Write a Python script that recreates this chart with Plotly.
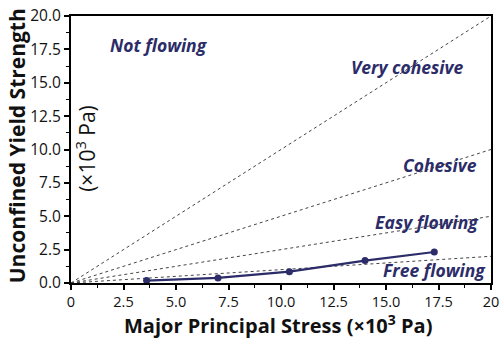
import plotly.graph_objects as go

# Data
stress = [3.6, 7.0, 10.4, 14.0, 17.3]
strength = [0.18, 0.38, 0.85, 1.68, 2.32]

boundary_x = [0, 20]
boundary_slopes = [1.0, 0.5, 0.25, 0.1]

region_labels = ["Not flowing", "Very cohesive", "Cohesive", "Easy flowing", "Free flowing"]
region_x = [4.2, 16.0, 17.55, 16.95, 17.3]
region_y = [17.85, 16.15, 8.85, 4.6, 0.95]

x_tickvals = [0, 2.5, 5, 7.5, 10, 12.5, 15, 17.5, 20]
x_ticktext = ["0", "2.5", "5.0", "7.5", "10.0", "12.5", "15.0", "17.5", "20"]
y_tickvals = [0, 2.5, 5, 7.5, 10, 12.5, 15, 17.5, 20]
y_ticktext = ["0.0", "2.5", "5.0", "7.5", "10.0", "12.5", "15.0", "17.5", "20.0"]

navy = "#2b2c68"
font_family = "Open Sans, Noto Sans, sans-serif"

fig = go.Figure()

for s in boundary_slopes:
    fig.add_trace(go.Scatter(
        x=boundary_x, y=[s * v for v in boundary_x], mode="lines",
        line=dict(color="#444444", width=1, dash="dot"),
        hoverinfo="skip", showlegend=False))

fig.add_trace(go.Scatter(
    x=stress, y=strength, mode="lines+markers",
    line=dict(color=navy, width=2.2),
    marker=dict(color=navy, size=7),
    showlegend=False))

for t, xv, yv in zip(region_labels, region_x, region_y):
    fig.add_annotation(x=xv, y=yv, text="<b><i>" + t + "</i></b>", showarrow=False,
                       font=dict(family=font_family, size=17.5, color=navy),
                       xanchor="center", yanchor="middle")

fig.add_annotation(xref="paper", yref="paper", x=-0.128, y=0.513,
                   text="<b>Unconfined Yield Strength</b>", textangle=-90, showarrow=False,
                   font=dict(family=font_family, size=21, color="#111111"),
                   xanchor="center", yanchor="middle")
fig.add_annotation(xref="paper", yref="paper", x=0.036, y=0.503,
                   text="(×10<sup>3</sup> Pa)", textangle=-90, showarrow=False,
                   font=dict(family=font_family, size=21, color="#111111"),
                   xanchor="center", yanchor="middle")
fig.add_annotation(xref="paper", yref="paper", x=0.494, y=-0.155,
                   text="<b>Major Principal Stress (×10<sup>3</sup> Pa)</b>", showarrow=False,
                   font=dict(family=font_family, size=20, color="#111111"),
                   xanchor="center", yanchor="middle")

axis_common = dict(
    showgrid=False, zeroline=False, showline=True, linecolor="black", linewidth=2,
    mirror=True, ticks="outside", ticklen=5, tickwidth=1.5, tickcolor="black",
    automargin=False,
    minor=dict(ticks="outside", ticklen=3, tickwidth=1, tickcolor="black", dtick=1.25),
)

fig.update_xaxes(range=[0, 20], tickvals=x_tickvals, ticktext=x_ticktext,
                 tickfont=dict(family=font_family, size=14.5, color="#111111"), **axis_common)
fig.update_yaxes(range=[0, 20], tickvals=y_tickvals, ticktext=y_ticktext,
                 tickfont=dict(family=font_family, size=15.5, color="#111111"), **axis_common)

fig.update_layout(
    width=500, height=343,
    margin=dict(l=71, r=9, t=16, b=60),
    plot_bgcolor="white", paper_bgcolor="white",
)

fig.write_html("out.html")
